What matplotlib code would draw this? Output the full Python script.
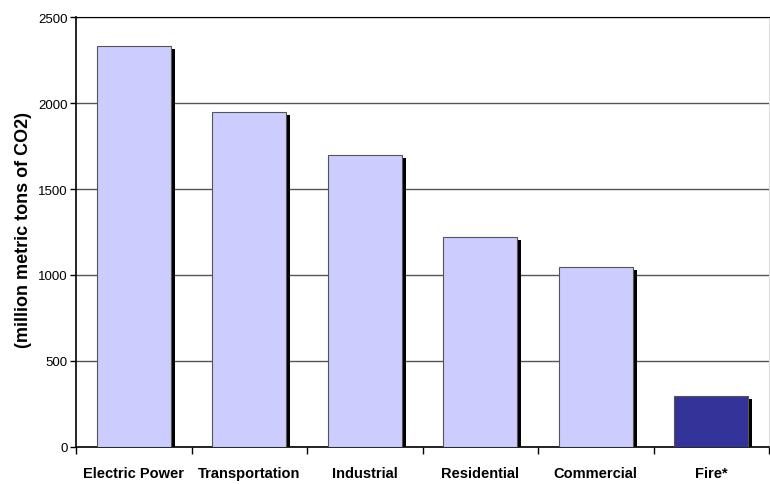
import matplotlib
matplotlib.use('Agg')
import matplotlib.pyplot as plt
import numpy as np

plt.rcParams['font.family'] = ['Liberation Sans', 'DejaVu Sans']

# CO2 emissions by sector (million metric tons)
sectors = ['Electric Power', 'Transportation', 'Industrial', 'Residential', 'Commercial', 'Fire*']
emissions = [2330, 1946, 1698, 1220, 1045, 297]
colors = ['#CCCCFF', '#CCCCFF', '#CCCCFF', '#CCCCFF', '#CCCCFF', '#333399']

fig = plt.figure(figsize=(7.7, 4.85), dpi=100)
ax = fig.add_axes([76 / 770, 1 - 448 / 485, 693 / 770, 430 / 485])

x = np.arange(len(sectors))
width = 0.64

# drop shadow behind each bar (Excel style)
dx, dy = 0.034, 18
ax.bar(x + dx, np.array(emissions) - dy, width, color='black', zorder=2)
ax.bar(x, emissions, width, color=colors, edgecolor='#555555', linewidth=0.8, zorder=3)

ax.set_xlim(-0.5, len(sectors) - 0.5)
ax.set_ylim(0, 2500)
ax.set_yticks(range(0, 2501, 500))
ax.yaxis.grid(True, color='#555555', linewidth=1.0, zorder=0)
ax.set_axisbelow(True)

ax.set_xticks(x)
ax.set_xticklabels(sectors, fontsize=10.5, fontweight='bold')
ax.set_xticks(np.arange(-0.5, len(sectors)), minor=True)
ax.tick_params(axis='x', which='major', length=0, pad=14)
ax.tick_params(axis='x', which='minor', length=5, width=1, direction='out')
ax.tick_params(axis='y', length=4, width=1, direction='out', labelsize=9.5, pad=2)

ax.set_ylabel('(million metric tons of CO2)', fontsize=13, fontweight='bold')
ax.yaxis.set_label_coords(-44 / 693, 0.506)

ax.spines['top'].set_color('black')
ax.spines['right'].set_color('#dddddd')
ax.spines['left'].set_linewidth(1.2)
ax.spines['bottom'].set_linewidth(1.2)

fig.savefig('out.png', dpi=100)
